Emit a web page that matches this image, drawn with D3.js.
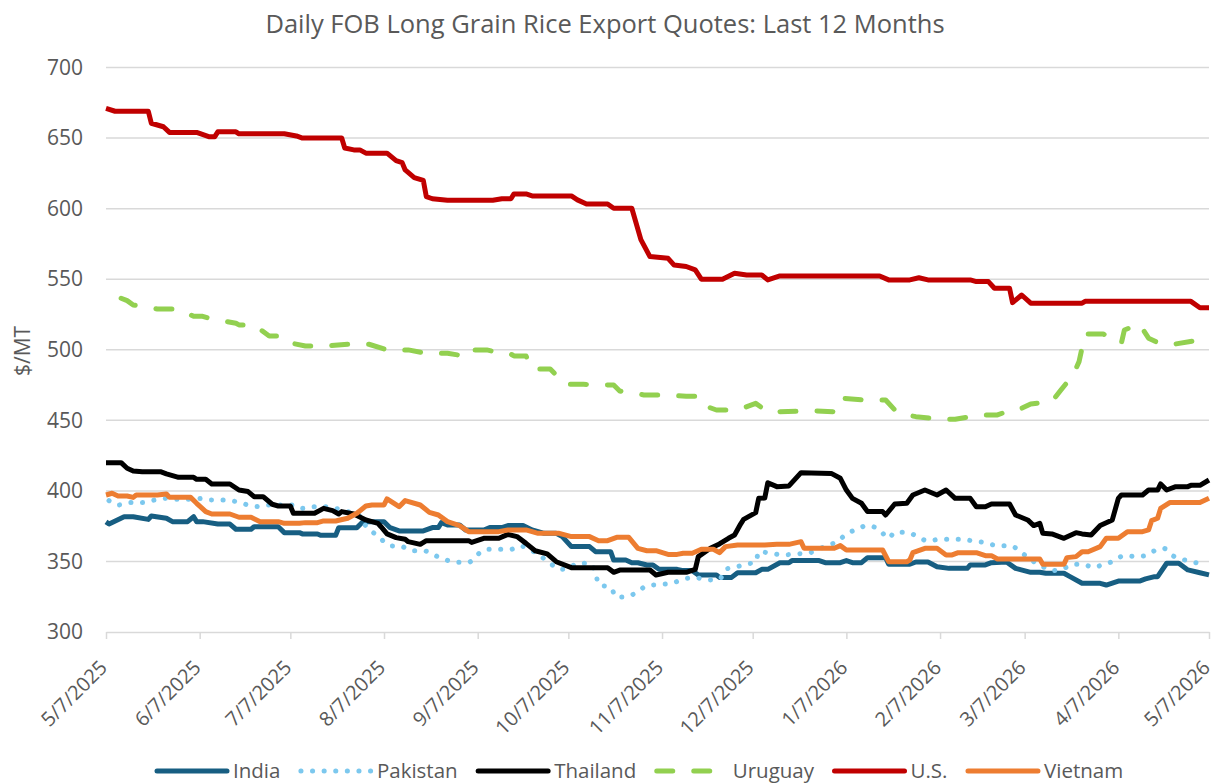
<!DOCTYPE html>
<html><head><meta charset="utf-8">
<script src="https://cdn.jsdelivr.net/npm/d3@7/dist/d3.min.js"></script>
<style>body{margin:0;background:#fff}svg{display:block;font-family:"Open Sans",sans-serif}</style>
</head><body>
<svg id="chart" width="1217" height="783"></svg>
<script>
const title = "Daily FOB Long Grain Rice Export Quotes: Last 12 Months";
const yLabel = "$/MT";
const yTicks = [300,350,400,450,500,550,600,650,700];
const xTickLabels = ["5/7/2025","6/7/2025","7/7/2025","8/7/2025","9/7/2025","10/7/2025","11/7/2025","12/7/2025","1/7/2026","2/7/2026","3/7/2026","4/7/2026","5/7/2026"];
const seriesNames = ["India","Pakistan","Thailand","Uruguay","U.S.","Vietnam"];

const india = [["5/7/2025",378],["5/8/2025",376.5],["5/13/2025",381.7],["5/16/2025",381.7],["5/21/2025",379.8],["5/22/2025",382.2],["5/27/2025",380.6],["5/29/2025",378.2],["6/3/2025",378.2],["6/5/2025",381.7],["6/6/2025",378.2],["6/8/2025",378.2],["6/13/2025",376.5],["6/17/2025",376.5],["6/19/2025",372.8],["6/24/2025",372.8],["6/25/2025",374.6],["7/3/2025",374.6],["7/5/2025",370.4],["7/10/2025",370.4],["7/11/2025",369.5],["7/16/2025",369.5],["7/17/2025",368.5],["7/22/2025",368.5],["7/23/2025",373.9],["7/29/2025",373.9],["7/31/2025",378.2],["8/7/2025",378.2],["8/9/2025",373.9],["8/12/2025",371.6],["8/20/2025",371.6],["8/23/2025",374],["8/25/2025",374],["8/26/2025",377.5],["8/28/2025",375.8],["9/1/2025",375.8],["9/3/2025",372.3],["9/9/2025",372.3],["9/11/2025",374],["9/15/2025",374],["9/17/2025",375.4],["9/22/2025",375.4],["9/25/2025",372.3],["9/29/2025",369.9],["10/3/2025",369.9],["10/5/2025",367.6],["10/8/2025",360.5],["10/14/2025",360.5],["10/16/2025",356.9],["10/21/2025",356.9],["10/22/2025",351],["10/26/2025",351],["10/28/2025",349.1],["10/30/2025",349.1],["11/2/2025",347.5],["11/4/2025",347.5],["11/6/2025",344.4],["11/12/2025",344.4],["11/14/2025",343.5],["11/17/2025",343.5],["11/19/2025",340.4],["11/25/2025",340.4],["11/26/2025",338.7],["11/30/2025",338.7],["12/2/2025",342],["12/8/2025",342],["12/10/2025",344.4],["12/12/2025",344.4],["12/16/2025",349.1],["12/19/2025",349.1],["12/20/2025",350.6],["12/29/2025",350.6],["12/31/2025",349.1],["1/5/2026",349.1],["1/7/2026",350.6],["1/9/2026",349.1],["1/12/2026",349.1],["1/14/2026",352.7],["1/20/2026",352.7],["1/21/2026",348],["1/28/2026",348],["1/30/2026",349.6],["2/3/2026",349.6],["2/6/2026",346.3],["2/10/2026",345.1],["2/16/2026",345.1],["2/17/2026",347.5],["2/22/2026",347.5],["2/24/2026",349.1],["3/1/2026",349.6],["3/4/2026",345.1],["3/9/2026",342.3],["3/12/2026",342.3],["3/14/2026",341.6],["3/20/2026",341.6],["3/22/2026",339.2],["3/26/2026",334.5],["4/1/2026",334.5],["4/3/2026",333.3],["4/7/2026",336.1],["4/14/2026",336.1],["4/16/2026",337.6],["4/19/2026",339.2],["4/20/2026",339.2],["4/23/2026",348.7],["4/27/2026",348.7],["4/30/2026",344],["5/4/2026",342],["5/7/2026",340.5]];

const pakistan = [["5/8/2025",393.1],["5/11/2025",390],["5/15/2025",391.7],["5/19/2025",391.7],["5/23/2025",393.5],["5/27/2025",394.7],["5/31/2025",394],["6/4/2025",394],["6/8/2025",394.7],["6/11/2025",393.5],["6/15/2025",393.5],["6/19/2025",392.4],["6/23/2025",390],["6/27/2025",388.8],["6/30/2025",390],["7/8/2025",390],["7/11/2025",387.6],["7/14/2025",388.8],["7/19/2025",388.8],["7/22/2025",387.6],["7/26/2025",385.3],["7/29/2025",384.1],["8/1/2025",375.1],["8/5/2025",368],["8/9/2025",361.2],["8/13/2025",360.5],["8/16/2025",357.6],["8/20/2025",357.6],["8/24/2025",354.1],["8/27/2025",351.5],["8/31/2025",349.4],["9/4/2025",349.4],["9/7/2025",355],["9/10/2025",358.6],["9/18/2025",358.6],["9/21/2025",361],["9/24/2025",358.6],["9/28/2025",353.4],["10/1/2025",348.7],["10/4/2025",344.4],["10/7/2025",345],["10/10/2025",348.7],["10/14/2025",348.7],["10/16/2025",342],["10/17/2025",333.8],["10/21/2025",331.4],["10/23/2025",324.6],["10/27/2025",325.5],["10/30/2025",328.6],["11/2/2025",332.8],["11/7/2025",333.8],["11/11/2025",335],["11/14/2025",337.6],["11/18/2025",338.5],["11/22/2025",336.9],["11/26/2025",337.3],["11/28/2025",344.4],["12/1/2025",345.8],["12/5/2025",348.2],["12/8/2025",349.4],["12/9/2025",356.9],["12/13/2025",355.8],["12/17/2025",354.6],["12/21/2025",355.3],["12/25/2025",355.8],["1/1/2026",361.7],["1/4/2026",364],["1/7/2026",369.5],["1/10/2026",372.3],["1/14/2026",375.4],["1/18/2026",372.3],["1/21/2026",366.4],["1/23/2026",370.6],["1/27/2026",370.6],["1/30/2026",368.3],["2/3/2026",364.5],["2/7/2026",365.7],["2/14/2026",365.7],["2/18/2026",364.5],["2/22/2026",363.3],["2/26/2026",361.2],["3/2/2026",361.2],["3/7/2026",354.6],["3/10/2026",349.8],["3/13/2026",346.3],["3/16/2026",343.5],["3/20/2026",345.1],["3/23/2026",348],["3/26/2026",348],["3/30/2026",345.8],["4/2/2026",348],["4/5/2026",349.8],["4/9/2026",354.1],["4/13/2026",353.4],["4/16/2026",354.1],["4/19/2026",357.6],["4/22/2026",359.3],["4/25/2026",354.1],["4/29/2026",351],["5/2/2026",349.4],["5/6/2026",348]];

const thailand = [["5/7/2025",420],["5/12/2025",420],["5/14/2025",416],["5/16/2025",414.1],["5/19/2025",413.6],["5/25/2025",413.6],["5/27/2025",412],["5/31/2025",409.6],["6/5/2025",409.6],["6/6/2025",408.2],["6/9/2025",408.2],["6/11/2025",404.9],["6/17/2025",404.9],["6/20/2025",400.6],["6/23/2025",399.5],["6/25/2025",395.9],["6/28/2025",395.9],["7/1/2025",390.5],["7/3/2025",389.3],["7/7/2025",389.3],["7/8/2025",384.1],["7/15/2025",384.1],["7/18/2025",387.6],["7/21/2025",386],["7/23/2025",383.6],["7/24/2025",385.3],["7/28/2025",383.6],["8/1/2025",379.4],["8/5/2025",377],["8/6/2025",374.6],["8/8/2025",369.5],["8/11/2025",366.9],["8/14/2025",365.7],["8/15/2025",364],["8/19/2025",362.1],["8/21/2025",364.7],["9/4/2025",364.7],["9/5/2025",363.5],["9/9/2025",366.4],["9/14/2025",366.4],["9/17/2025",369.2],["9/20/2025",367.6],["9/23/2025",362.8],["9/26/2025",357.6],["9/30/2025",355.3],["10/3/2025",349.8],["10/8/2025",345.6],["10/20/2025",345.6],["10/22/2025",342.3],["10/24/2025",343.9],["11/3/2025",343.9],["11/5/2025",340.4],["11/9/2025",342.3],["11/15/2025",342.3],["11/18/2025",344.4],["11/19/2025",353.4],["11/23/2025",359.3],["11/26/2025",362.4],["11/29/2025",366.4],["12/1/2025",368.7],["12/3/2025",376.5],["12/4/2025",379.8],["12/8/2025",384.6],["12/9/2025",394.7],["12/11/2025",395],["12/12/2025",405.8],["12/15/2025",403],["12/19/2025",403.5],["12/23/2025",412.9],["1/2/2026",412.4],["1/5/2026",408.9],["1/7/2026",400.6],["1/9/2026",394.7],["1/12/2026",391.2],["1/14/2026",385.3],["1/19/2026",385.3],["1/20/2026",382.9],["1/23/2026",390.7],["1/27/2026",391.2],["1/29/2026",397.1],["2/2/2026",400.6],["2/6/2026",397.1],["2/9/2026",400.6],["2/12/2026",394.7],["2/17/2026",394.7],["2/19/2026",388.8],["2/22/2026",388.8],["2/24/2026",390.7],["3/2/2026",390.7],["3/4/2026",382.9],["3/8/2026",379.4],["3/10/2026",375.4],["3/12/2026",377],["3/13/2026",369.9],["3/16/2026",369.5],["3/20/2026",366.4],["3/24/2026",370.4],["3/26/2026",369.5],["3/29/2026",368.7],["4/1/2026",375.4],["4/5/2026",379.4],["4/7/2026",394.7],["4/8/2026",397.1],["4/15/2026",397.1],["4/17/2026",400.6],["4/20/2026",400.6],["4/21/2026",404.9],["4/23/2026",400.6],["4/26/2026",403],["4/30/2026",403],["5/1/2026",403.9],["5/4/2026",403.9],["5/7/2026",407.7]];

const uruguay = [["5/12/2025",536.5],["5/14/2025",534.8],["5/16/2025",531.7],["5/24/2025",528.9],["5/31/2025",528.9],["6/5/2025",523.7],["6/8/2025",523.7],["6/11/2025",521.8],["6/19/2025",518.8],["6/20/2025",517.6],["6/25/2025",517.6],["6/30/2025",509.8],["7/3/2025",509.8],["7/5/2025",505.7],["7/12/2025",502.7],["7/19/2025",502.7],["7/26/2025",503.9],["8/2/2025",503.9],["8/8/2025",499.9],["8/15/2025",499.9],["8/21/2025",497.5],["8/28/2025",497.5],["9/4/2025",495.1],["9/6/2025",499.9],["9/10/2025",499.9],["9/16/2025",496.9],["9/18/2025",496.9],["9/19/2025",495.6],["9/23/2025",495.6],["9/25/2025",486.4],["10/1/2025",486.4],["10/6/2025",475.5],["10/12/2025",475.5],["10/22/2025",475],["10/24/2025",470.8],["11/1/2025",468],["11/8/2025",468],["11/15/2025",467],["11/18/2025",467],["11/19/2025",462],["11/25/2025",457.3],["12/2/2025",457.3],["12/8/2025",462],["12/12/2025",456],["12/28/2025",456.6],["1/4/2026",456],["1/6/2026",465.6],["1/13/2026",464.4],["1/20/2026",464.4],["1/24/2026",455],["1/30/2026",452.6],["2/7/2026",450.7],["2/12/2026",450.7],["2/20/2026",453.8],["2/26/2026",453.8],["3/4/2026",458.5],["3/6/2026",458.5],["3/9/2026",461.6],["3/16/2026",463.2],["3/19/2026",471.5],["3/23/2026",482.1],["3/25/2026",491.6],["3/27/2026",511.2],["4/2/2026",511.2],["4/8/2026",504.6],["4/9/2026",514],["4/14/2026",518.3],["4/17/2026",508.2],["4/21/2026",504.1],["4/26/2026",504.1],["5/4/2026",507],["5/7/2026",502.7]];

const us = [["5/7/2025",671],["5/10/2025",669],["5/21/2025",669],["5/22/2025",660.5],["5/26/2025",658],["5/28/2025",654],["6/6/2025",654],["6/10/2025",651],["6/12/2025",651],["6/13/2025",654.4],["6/19/2025",654.4],["6/20/2025",653],["7/5/2025",653],["7/9/2025",651.5],["7/11/2025",650],["7/24/2025",650],["7/25/2025",643],["7/28/2025",641.6],["7/30/2025",641.6],["8/1/2025",639.3],["8/8/2025",639.3],["8/11/2025",634],["8/13/2025",632.6],["8/14/2025",627.4],["8/17/2025",622],["8/20/2025",620],["8/21/2025",608.5],["8/23/2025",607],["8/28/2025",606],["9/12/2025",606],["9/15/2025",607],["9/18/2025",607],["9/19/2025",610.4],["9/23/2025",610.4],["9/25/2025",609],["10/8/2025",609],["10/10/2025",606.2],["10/13/2025",603.3],["10/20/2025",603.3],["10/22/2025",600.3],["10/28/2025",600.3],["10/31/2025",578],["11/3/2025",566],["11/9/2025",564.8],["11/11/2025",560],["11/15/2025",559],["11/18/2025",556.6],["11/20/2025",550],["11/27/2025",550],["12/1/2025",554.2],["12/5/2025",553],["12/10/2025",553],["12/12/2025",549.5],["12/16/2025",552.3],["1/18/2026",552.3],["1/21/2026",549.5],["1/28/2026",549.5],["1/31/2026",551],["2/3/2026",549.5],["2/17/2026",549.5],["2/19/2026",548.3],["2/23/2026",548.3],["2/25/2026",543.6],["3/2/2026",543.6],["3/3/2026",533.4],["3/6/2026",538.8],["3/9/2026",533],["3/26/2026",533],["3/27/2026",534.3],["5/1/2026",534.3],["5/4/2026",529.8],["5/7/2026",529.8]];

const vietnam = [["5/7/2025",397.1],["5/9/2025",398.3],["5/11/2025",396.4],["5/14/2025",396.4],["5/16/2025",395.4],["5/17/2025",397.1],["5/24/2025",397.1],["5/27/2025",397.8],["5/28/2025",395.4],["6/4/2025",395.4],["6/6/2025",391.2],["6/9/2025",385.3],["6/11/2025",383.6],["6/17/2025",383.6],["6/20/2025",381.3],["6/24/2025",381.3],["6/27/2025",378.2],["7/3/2025",378.2],["7/5/2025",377],["7/10/2025",377],["7/12/2025",377.5],["7/16/2025",377.5],["7/18/2025",378.7],["7/22/2025",378.7],["7/26/2025",380.6],["7/29/2025",384.1],["8/1/2025",389.3],["8/3/2025",390],["8/7/2025",390],["8/8/2025",394.3],["8/12/2025",388.8],["8/14/2025",393.1],["8/19/2025",390],["8/22/2025",384.8],["8/25/2025",382.9],["8/28/2025",378.2],["9/1/2025",375.4],["9/4/2025",371.1],["9/14/2025",371.1],["9/17/2025",372.3],["9/23/2025",372.3],["9/27/2025",369.9],["10/4/2025",369.9],["10/8/2025",367.6],["10/14/2025",367.6],["10/17/2025",364.7],["10/20/2025",364.7],["10/23/2025",367.1],["10/27/2025",367.1],["10/30/2025",359.3],["11/2/2025",357.6],["11/5/2025",357.6],["11/9/2025",355],["11/12/2025",355],["11/14/2025",355.8],["11/17/2025",355.8],["11/20/2025",358.6],["11/24/2025",358.6],["11/26/2025",356.2],["11/28/2025",360.5],["12/2/2025",361.7],["12/11/2025",361.7],["12/15/2025",362.1],["12/19/2025",362.1],["12/23/2025",364],["12/24/2025",359.3],["1/3/2026",359.3],["1/5/2026",361.2],["1/7/2026",358.1],["1/19/2026",358.1],["1/21/2026",349.8],["1/27/2026",349.8],["1/28/2026",351],["1/29/2026",356.2],["2/2/2026",359.3],["2/6/2026",359.3],["2/9/2026",354.6],["2/11/2026",354.6],["2/13/2026",356.2],["2/19/2026",356.2],["2/22/2026",354.1],["2/24/2026",354.1],["2/26/2026",351.7],["3/12/2026",351.7],["3/13/2026",348],["3/20/2026",348],["3/21/2026",352.7],["3/24/2026",353.4],["3/26/2026",356.9],["3/28/2026",356.9],["4/1/2026",360.5],["4/3/2026",366.4],["4/7/2026",366.4],["4/10/2026",371.1],["4/15/2026",371.1],["4/17/2026",372.3],["4/18/2026",378.9],["4/20/2026",380.6],["4/21/2026",387.6],["4/24/2026",391.7],["5/4/2026",391.7],["5/7/2026",394.7]];

const seriesData = [india, pakistan, thailand, uruguay, us, vietnam];
const seriesColors = ["#175E82","#7CC8EE","#000000","#92D050","#C00000","#ED7D31"];
const seriesDash = [null,"0.1 11.5",null,"16 21",null,null];

const parse = d3.timeParse("%m/%d/%Y");
const fmt = d3.timeFormat("%-m/%-d/%Y");
const txt = "#595959";
const svg = d3.select("#chart");

const x = d3.scaleTime()
  .domain([parse(xTickLabels[0]), parse(xTickLabels[xTickLabels.length-1])])
  .range([106, 1209]);
const y = d3.scaleLinear().domain([300, 700]).range([632, 67.5]);

// title
svg.append("text").attr("x", 605).attr("y", 33).attr("text-anchor","middle")
  .attr("font-size", 25.5).attr("fill", txt).text(title);

// gridlines
svg.append("g").selectAll("line").data(yTicks.filter(d => d > 300)).join("line")
  .attr("x1", 106).attr("x2", 1209)
  .attr("y1", d => y(d)).attr("y2", d => y(d))
  .attr("stroke", "#D9D9D9").attr("stroke-width", 1.5);

// y axis
const gy = svg.append("g").attr("transform","translate(106,0)")
  .call(d3.axisLeft(y).tickValues(yTicks).tickSize(0).tickPadding(23));
gy.select(".domain").remove();
gy.selectAll("text").attr("font-size", 21).attr("fill", txt).attr("font-family", '"Open Sans",sans-serif');

// x axis
const gx = svg.append("g").attr("transform","translate(0,632)")
  .call(d3.axisBottom(x).tickValues(xTickLabels.map(parse)).tickFormat(fmt).tickSize(7).tickSizeOuter(0));
gx.select(".domain").attr("stroke","#D9D9D9").attr("stroke-width",1.5);
gx.selectAll(".tick line").attr("stroke","#D9D9D9").attr("stroke-width",1.5);
gx.selectAll("text").attr("font-size", 20).attr("fill", txt).attr("font-family", '"Open Sans",sans-serif')
  .attr("text-anchor","end").attr("x",0).attr("y",0).attr("dy","0.35em")
  .attr("transform","translate(-3,32) rotate(-45)");

// y label
svg.append("text").attr("transform","translate(30,351) rotate(-90)")
  .attr("text-anchor","middle").attr("font-size",21).attr("fill",txt).text(yLabel);

// lines
const gl = svg.append("g");
seriesData.forEach((data, i) => {
  const line = d3.line()
    .x(d => x(parse(d[0]))).y(d => y(d[1]))
    .curve(i === 1 ? d3.curveMonotoneX : d3.curveLinear);
  gl.append("path").datum(data)
    .attr("d", line).attr("fill","none")
    .attr("stroke", seriesColors[i]).attr("stroke-width", 5)
    .attr("stroke-linejoin","round")
    .attr("stroke-linecap", seriesDash[i] ? "round" : "butt")
    .attr("stroke-dasharray", seriesDash[i]);
});

// legend
const lg = svg.append("g").attr("transform","translate(0,771)");
let lx = 157;
seriesNames.forEach((name, i) => {
  lg.append("line").attr("x1", lx).attr("x2", lx + 70).attr("y1",0).attr("y2",0)
    .attr("stroke", seriesColors[i]).attr("stroke-width", 5)
    .attr("stroke-linecap", "round")
    .attr("stroke-dasharray", seriesDash[i]);
  const t = lg.append("text").attr("x", lx + 76).attr("y", 0).attr("dy","0.35em")
    .attr("font-size", 20.5).attr("fill", txt).text(name);
  lx += 76 + t.node().getComputedTextLength() + 20.5;
});
</script>
</body></html>
